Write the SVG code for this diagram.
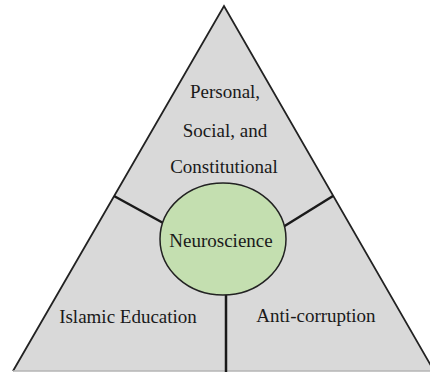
<svg xmlns="http://www.w3.org/2000/svg" width="430" height="372" viewBox="0 0 430 372">
<style>
.lbl{font-family:"Liberation Serif","Times New Roman",serif;font-size:19px;fill:#1a1a1a;text-anchor:middle}
.conn{stroke:#1a1a1a;stroke-width:2.5;fill:none}
</style>
<rect width="430" height="372" fill="#ffffff"/>
<g id="triangle">
<polygon points="224,6 13,371 434,371" fill="#d9d9d9"/>
<polyline points="13,371 224,6 434,371" fill="none" stroke="#222" stroke-width="1.8" stroke-linejoin="miter"/>
<line x1="13" y1="371" x2="430" y2="371" stroke="#b5b5b5" stroke-width="1.5"/>
</g>
<g id="connectors">
<line class="conn" x1="114" y1="196" x2="165" y2="224"/>
<line class="conn" x1="333" y1="196" x2="283" y2="227"/>
<line class="conn" x1="226" y1="293" x2="226" y2="372"/>
</g>
<g id="node-personal">
<text class="lbl" x="225" y="98">Personal,</text>
<text class="lbl" x="225" y="137">Social, and</text>
<text class="lbl" x="224" y="173">Constitutional</text>
</g>
<g id="node-neuroscience">
<ellipse cx="223" cy="239" rx="63" ry="56" fill="#c4dfb0" stroke="#222" stroke-width="1.5"/>
<text class="lbl" x="221" y="247">Neuroscience</text>
</g>
<g id="node-islamic">
<text class="lbl" x="128" y="323">Islamic Education</text>
</g>
<g id="node-anticorruption">
<text class="lbl" x="316" y="322">Anti-corruption</text>
</g>
</svg>
